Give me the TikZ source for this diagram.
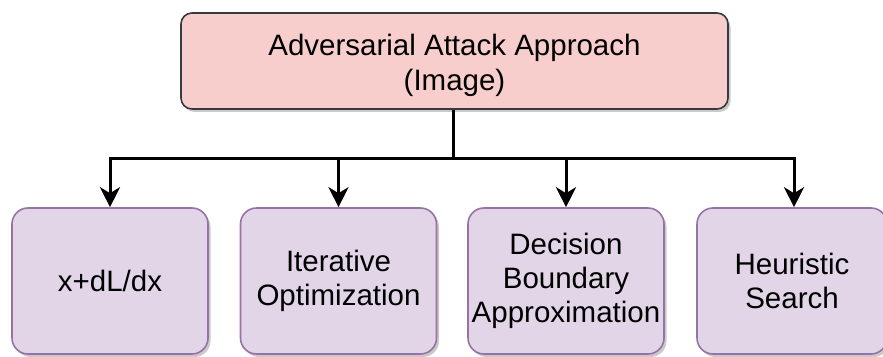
\documentclass[tikz,border=0pt]{standalone}
\usepackage{fontspec}
\setmainfont{Liberation Sans}
\usetikzlibrary{arrows.meta,shadows}
\definecolor{topfill}{HTML}{F8CECC}
\definecolor{topdraw}{HTML}{36393D}
\definecolor{subfill}{HTML}{E1D5E7}
\definecolor{subdraw}{HTML}{9673A6}
\begin{document}
\begin{tikzpicture}[x=1pt,y=1pt,
  boxshadow/.style={drop shadow={shadow xshift=2.5pt,shadow yshift=-3pt,opacity=0.35,fill=black!60}},
  topbox/.style={draw=topdraw,fill=topfill,line width=1.6pt,rounded corners=11pt,
    minimum width=547pt,minimum height=96pt,align=center,boxshadow,
    font=\fontsize{29.5}{35}\selectfont,inner sep=0pt},
  subbox/.style={draw=subdraw,fill=subfill,line width=1.6pt,rounded corners=16pt,
    minimum width=196pt,minimum height=146pt,align=center,boxshadow,
    font=\fontsize{29.5}{34}\selectfont,inner sep=0pt},
  conn/.style={line width=3pt,draw=black},
  arr/.style={conn,-{Stealth[length=20pt,width=20pt,inset=6pt]}}
]
\useasboundingbox (0,0) rectangle (883,356);
\node[topbox] (top) at (454.5,295) {\rule{0pt}{30pt}Adversarial Attack Approach\\(Image)};
\node[subbox] (b1) at (110,75) {x+dL/dx};
\node[subbox] (b2) at (338.5,75) {Iterative\\Optimization};
\node[subbox] (b3) at (566,75) {Decision\\Boundary\\Approximation};
\node[subbox,minimum width=190pt] (b4) at (792,75) {Heuristic\\Search};
\coordinate (j) at (453,197);
\coordinate (jl) at (b1.north |- j);
\coordinate (jr) at (794,197);
\draw[conn] (453,0 |- top.south) -- (j);
\draw[conn,line cap=rect] (jl) -- (jr);
\draw[arr] (jl) -- (b1.north);
\draw[arr] (b2.north |- j) -- (b2.north);
\draw[arr] (b3.north |- j) -- (b3.north);
\draw[arr] (jr) -- (794,0 |- b4.north);
\end{tikzpicture}
\end{document}
